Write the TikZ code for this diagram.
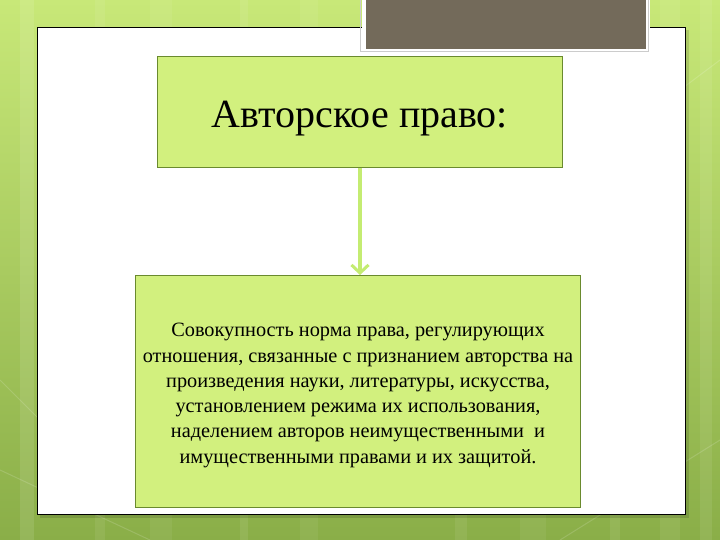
\documentclass[tikz,border=0pt]{standalone}
\usepackage{fontspec}
\setmainfont{Liberation Serif}
\usetikzlibrary{arrows.meta}
\definecolor{bgtop}{HTML}{C8E878}
\definecolor{bgbot}{HTML}{8AAE48}
\definecolor{boxfill}{HTML}{D2F07E}
\definecolor{boxline}{HTML}{6A8A2E}
\definecolor{taupe}{HTML}{736A5A}
\definecolor{arrowgreen}{HTML}{C4EC72}
\tikzset{
  greenbox/.style={draw=boxline, line width=1pt, fill=boxfill, inner sep=0pt, align=center},
  linkarrow/.style={draw=arrowgreen, line width=3.5pt, -{Straight Barb[length=8pt,width=17pt,line width=3pt]}}
}
\begin{document}
\begin{tikzpicture}[x=1pt,y=-1pt]
\useasboundingbox (0,0) rectangle (720,540);
% background
\shade[top color=bgtop, bottom color=bgbot] (0,0) rectangle (720,540);
\foreach \x/\w/\o in {20/14/0.10, 95/10/0.07, 150/22/0.06, 240/8/0.08, 300/18/0.06, 455/12/0.07, 520/26/0.06, 610/10/0.08, 660/20/0.07, 700/12/0.08}
  \fill[white, opacity=\o] (\x,0) rectangle (\x+\w,540);
\draw[white, opacity=0.15, line width=1pt] (0,470) -- (150,540) (560,540) -- (720,440) (0,380) -- (40,420) (680,90) -- (720,60);
% white panel
\fill[black, opacity=0.12] (40,30) rectangle (689,518);
\node[draw=black, line width=1pt, fill=white, minimum width=648pt, minimum height=487pt, inner sep=0pt, anchor=north west] (panel) at (37,27) {};
% taupe block
\node[draw=white, line width=4pt, fill=taupe, minimum width=284pt, minimum height=53pt, inner sep=0pt, anchor=north west] (tab) at (362,-4) {};
\draw[gray!40, line width=0.6pt] (360,-2) -- (360,51) -- (648,51) -- (648,-2);
% boxes
\node[greenbox, minimum width=405pt, minimum height=111pt, anchor=north west] (top) at (157,56) {};
\node[font=\fontsize{40}{46}\selectfont, inner sep=0pt] (toptext) at ([yshift=-7pt]top.center) {Авторское право:};
\node[greenbox, minimum width=445pt, minimum height=232pt, anchor=north west] (bottom) at (135,275) {};
\node[align=center, inner sep=0pt, font=\fontsize{20.3}{25.3}\selectfont] (bottomtext) at ([yshift=-4pt]bottom.center)
{Совокупность норма права, регулирующих\\отношения, связанные с признанием авторства на\\произведения науки, литературы, искусства,\\установлением режима их использования,\\наделением авторов неимущественными~ и\\имущественными правами и их защитой.};
\draw[linkarrow] (top.south -| 360,0) -- (bottom.north -| 360,0);
\end{tikzpicture}
\end{document}
